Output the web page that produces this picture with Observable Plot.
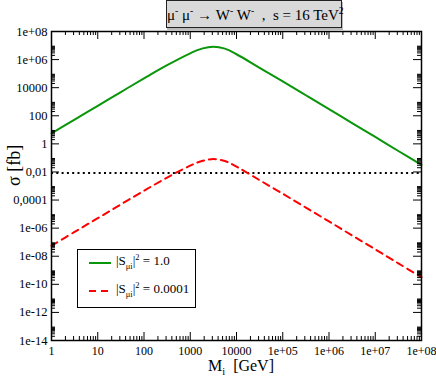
<!DOCTYPE html>
<html>
<head>
<meta charset="utf-8">
<script src="https://cdn.jsdelivr.net/npm/d3@7"></script>
<script src="https://cdn.jsdelivr.net/npm/@observablehq/plot@0.6"></script>
<style>
  body { margin: 0; background: #fff; }
  #wrap { position: relative; width: 436px; height: 382px; font-family: 'Liberation Serif', 'Times New Roman', serif; color: #000; }
  #chart svg text { font-family: 'Liberation Serif', 'Times New Roman', serif; font-variant-numeric: normal; }
  #title { position: absolute; left: 166px; top: 0px; width: 174px; height: 26px; background: #d9d9d9; border: 1px solid #222; box-shadow: 1px 2px 0 #bbb; font-size: 15px; line-height: 28px; text-align: center; white-space: nowrap; }
  sup, sub { font-size: 0.65em; line-height: 0; }
  #xlabel { position: absolute; left: 191px; width: 100px; top: 357px; text-align: center; font-size: 16px; line-height: 18px; white-space: nowrap; }
  #legend { position: absolute; left: 77px; top: 249px; width: 117px; height: 57px; border: 1px solid #000; background: #fff; }
  .lt { position: absolute; left: 38px; font-size: 13px; white-space: nowrap; }
  .sw { position: absolute; left: 10px; }
</style>
</head>
<body>
<div id="wrap">
  <div id="chart"></div>
  <div id="title">μ<sup>-</sup> μ<sup>-</sup> → W<sup>-</sup> W<sup>-</sup> &nbsp;,&nbsp; s = 16 TeV<sup>2</sup></div>
  <div id="xlabel">M<sub>i</sub> &nbsp;[GeV]</div>
  <div id="legend">
    <svg class="sw" style="top:6px" width="24" height="14"><line x1="1" y1="7" x2="23" y2="7" stroke="#0a960a" stroke-width="2"/></svg>
    <div class="lt" style="top:3px">|S<sub>μi</sub>|<sup>2</sup> = 1.0</div>
    <svg class="sw" style="top:34px" width="24" height="14"><line x1="1" y1="7" x2="23" y2="7" stroke="#ff0000" stroke-width="2" stroke-dasharray="7,5"/></svg>
    <div class="lt" style="top:31px">|S<sub>μi</sub>|<sup>2</sup> = 0.0001</div>
  </div>
</div>
<script>
// Heavy neutrino mass M_i [GeV]
const masses = [1, 3.16, 10, 31.6, 100, 316, 1000, 1780, 3160, 5620, 10000, 31600, 1e5, 3.16e5, 1e6, 3.16e6, 1e7, 3.16e7, 1e8];
// sigma [fb] for |S|^2 = 1.0
const sigmaS1 = [5.6, 54, 5.1e2, 4.9e3, 4.6e4, 4.0e5, 2.8e6, 6.0e6, 8.3e6, 6.0e6, 2.4e6, 2.6e5, 2.8e4, 2.9e3, 3.0e2, 30, 3.1, 0.31, 0.032];
// sigma [fb] for |S|^2 = 0.0001
const sigmaS2 = [5.6e-8, 5.4e-7, 5.1e-6, 4.9e-5, 4.6e-4, 4.0e-3, 2.8e-2, 6.0e-2, 8.3e-2, 6.0e-2, 2.4e-2, 2.6e-3, 2.8e-4, 2.9e-5, 3.0e-6, 3.0e-7, 3.1e-8, 3.1e-9, 3.2e-10];
// dotted reference level
const threshold = [0.0085];

const xTicks = [1, 10, 100, 1000, 1e4, 1e5, 1e6, 1e7, 1e8];
const xTickLabels = ["1", "10", "100", "1000", "10000", "1e+05", "1e+06", "1e+07", "1e+08"];
const yTicks = [1e8, 1e6, 1e4, 100, 1, 1e-2, 1e-4, 1e-6, 1e-8, 1e-10, 1e-12, 1e-14];
const yTickLabels = ["1e+08", "1e+06", "10000", "100", "1", "0,01", "0,0001", "1e-06", "1e-08", "1e-10", "1e-12", "1e-14"];

const xMinor = [];
for (const m of xTicks.slice(0, -1)) for (let k = 2; k <= 9; k++) xMinor.push(k * m);
const yMinor = [];
for (const m of yTicks.slice(1)) for (let k = 2; k <= 9; k++) yMinor.push(k * m);

const rows1 = masses.map((m, i) => ({m, s: sigmaS1[i]}));
const rows2 = masses.map((m, i) => ({m, s: sigmaS2[i]}));

const W = 436, H = 382, mL = 51, mR = 15, mT = 31, mB = 42;
const fw = W - mL - mR, fh = H - mT - mB;
const xLab = new Map(xTicks.map((t, i) => [t, xTickLabels[i]]));
const yLab = new Map(yTicks.map((t, i) => [t, yTickLabels[i]]));
const serif = "'Liberation Serif', 'Times New Roman', serif";

const chart = Plot.plot({
  width: W, height: H,
  marginLeft: mL, marginRight: mR, marginTop: mT, marginBottom: mB,
  x: {type: "log", domain: [1, 1e8], axis: null},
  y: {type: "log", domain: [1e-14, 1e8], axis: null},
  style: {fontFamily: serif, fontSize: "12.5px", color: "#000", background: "#fff"},
  marks: [
    Plot.ruleY(threshold, {stroke: "#000", strokeWidth: 2, strokeDasharray: "2,3.3"}),
    Plot.line(rows1, {x: "m", y: "s", stroke: "#0a960a", strokeWidth: 2, curve: "catmull-rom"}),
    Plot.line(rows2, {x: "m", y: "s", stroke: "#ff0000", strokeWidth: 2, strokeDasharray: "7,5", curve: "catmull-rom"}),
    // inward ticks on all four sides
    Plot.tickY(yTicks, {insetRight: fw - 8, stroke: "#000"}),
    Plot.tickY(yTicks, {insetLeft: fw - 8, stroke: "#000"}),
    Plot.tickY(yMinor, {insetRight: fw - 4, stroke: "#000"}),
    Plot.tickY(yMinor, {insetLeft: fw - 4, stroke: "#000"}),
    Plot.tickX(xTicks, {insetTop: fh - 8, stroke: "#000"}),
    Plot.tickX(xTicks, {insetBottom: fh - 8, stroke: "#000"}),
    Plot.tickX(xMinor, {insetTop: fh - 4, stroke: "#000"}),
    Plot.tickX(xMinor, {insetBottom: fh - 4, stroke: "#000"}),
    Plot.frame({stroke: "#000", strokeWidth: 1.5}),
    Plot.axisY(yTicks, {tickSize: 0, tickPadding: 4, label: null, fontFamily: serif, tickFormat: d => yLab.get(d)}),
    Plot.axisX(xTicks, {tickSize: 0, tickPadding: 6, label: null, fontFamily: serif, fontSize: 12, tickFormat: d => xLab.get(d)}),
    Plot.text(["σ [fb]"], {frameAnchor: "left", dx: -37, rotate: -90, fontSize: 18, fontFamily: serif})
  ]
});
document.getElementById("chart").appendChild(chart);
</script>
</body>
</html>
